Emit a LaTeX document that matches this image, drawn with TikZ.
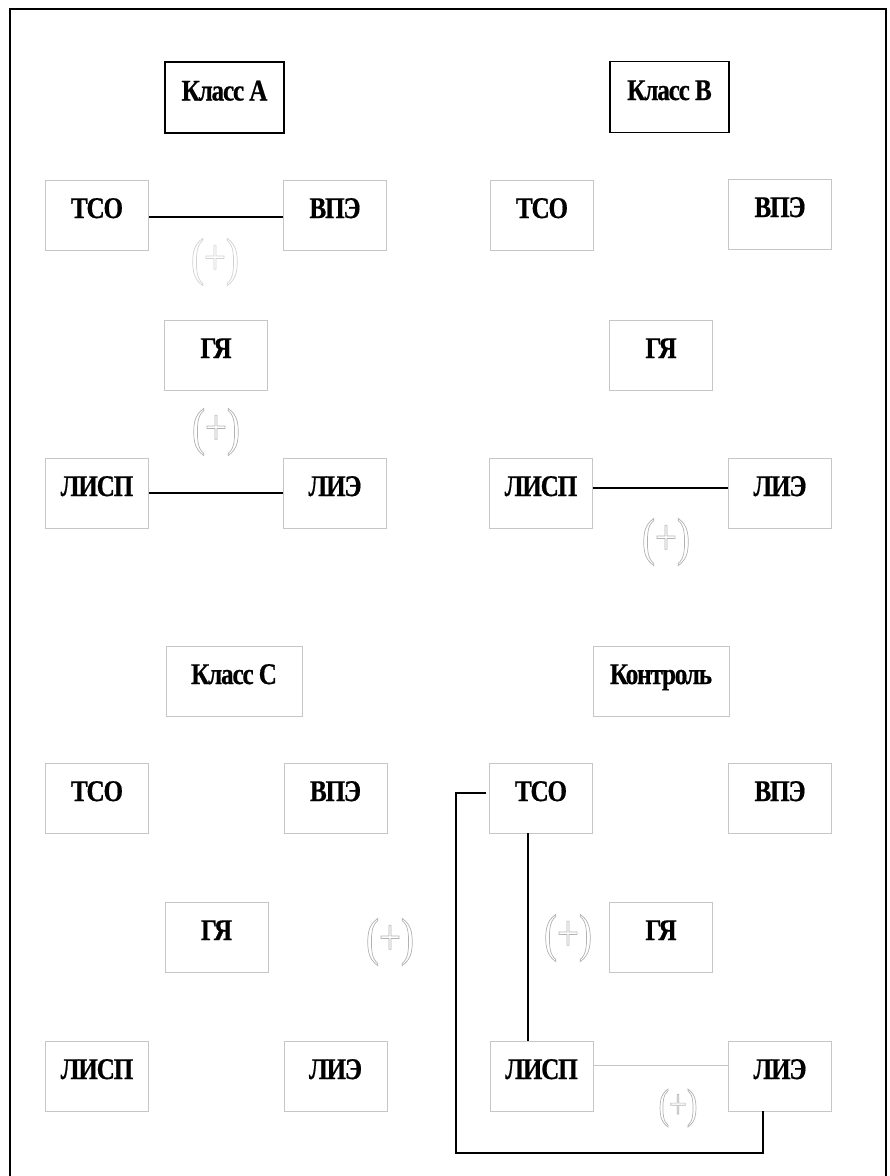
\documentclass[tikz,border=0pt]{standalone}
\usepackage{fontspec}
\setmainfont{Liberation Serif}[FakeStretch=0.84,LetterSpace=-4,FakeBold=0.6]
\newfontfamily\plusfont{Liberation Serif}[FakeStretch=0.75]
% outlined (stroked, unfilled) glyphs
\newcommand{\hollowtext}[1]{\special{pdf:literal direct 1 Tr 0.7 w}#1\special{pdf:literal direct 0 Tr}}
\begin{document}
\begin{tikzpicture}[x=1pt,y=-1pt,
  box/.style={draw=gray!45, line width=0.7pt, minimum width=103pt, minimum height=70pt,
    inner sep=0pt, text height=20pt, text depth=14pt,
    font=\bfseries\fontsize{30}{30}\selectfont},
  headbox/.style={box, draw=black, line width=1.3pt, minimum width=119pt, minimum height=71pt},
  widebox/.style={box, minimum width=136pt},
  link/.style={line width=1.5pt, black},
  faint/.style={gray!45, line width=0.8pt},
  plusmark/.style={text=gray!60, inner sep=0pt, font=\plusfont\fontsize{52}{52}\selectfont},
  pale/.style={plusmark, text=gray!35}]
\useasboundingbox (0,0) rectangle (890,1176);

% outer frame
\draw[line width=1.4pt] (10,1176) -- (10,9) -- (886,9) -- (886,1176);

% ---- Класс A ----
\node[headbox] (clsA) at (224.5,97.5) {Класс A};
\node[box] (tcoA)  at (97,215)  {ТСО};
\node[box] (vpeA)  at (335,215) {ВПЭ};
\node[box] (gyaA)  at (216,355) {ГЯ};
\node[box] (lispA) at (97,493)  {ЛИСП};
\node[box] (lieA)  at (335,493) {ЛИЭ};
\draw[link] ([yshift=-2pt]tcoA.east) -- ([yshift=-2pt]vpeA.west);
\draw[link] (lispA.east) -- (lieA.west);
\node[pale] (pA1) at (215,262) {\hollowtext{(+)}};
\node[plusmark] (pA2) at (216,432) {\hollowtext{(+)}};

% ---- Класс B ----
\node[headbox] (clsB) at (669.5,97) {Класс B};
\node[box] (tcoB)  at (542,215) {ТСО};
\node[box] (vpeB)  at (780,214) {ВПЭ};
\node[box] (gyaB)  at (661,355) {ГЯ};
\node[box] (lispB) at (541,493) {ЛИСП};
\node[box] (lieB)  at (780,493) {ЛИЭ};
\draw[link] ([yshift=5pt]lispB.east) -- ([yshift=5pt]lieB.west);
\node[plusmark] (pB) at (666,542) {\hollowtext{(+)}};

% ---- Класс C ----
\node[widebox] (clsC) at (234,681) {Класс C};
\node[box] (tcoC)  at (97,798)    {ТСО};
\node[box] (vpeC)  at (335.5,798) {ВПЭ};
\node[box] (gyaC)  at (216.5,937) {ГЯ};
\node[box] (lispC) at (97,1076)   {ЛИСП};
\node[box] (lieC)  at (335.5,1076){ЛИЭ};
\node[plusmark] (pC) at (390,942) {\hollowtext{(+)}};

% ---- Контроль ----
\node[widebox] (ctrl) at (661,681) {Контроль};
\node[box] (tcoK)  at (541,798)    {ТСО};
\node[box] (vpeK)  at (780,798)    {ВПЭ};
\node[box] (gyaK)  at (661,937)    {ГЯ};
\node[box] (lispK) at (541.5,1076) {ЛИСП};
\node[box] (lieK)  at (780,1076)   {ЛИЭ};
\coordinate (loopK) at (456,1153);
\draw[link] ([xshift=-13pt]tcoK.south) -- ([xshift=-13.5pt]lispK.north);
\draw[link] ([xshift=-3pt,yshift=5pt]tcoK.west) -| (loopK) -| ([xshift=-17pt]lieK.south);
\draw[faint] ([yshift=11pt]lispK.east) -- ([yshift=11pt]lieK.west);
\node[plusmark] (pK1) at (568,938) {\hollowtext{(+)}};
\node[plusmark, font=\plusfont\fontsize{42}{42}\selectfont] (pK2) at (678,1108) {\hollowtext{(+)}};
\end{tikzpicture}
\end{document}
